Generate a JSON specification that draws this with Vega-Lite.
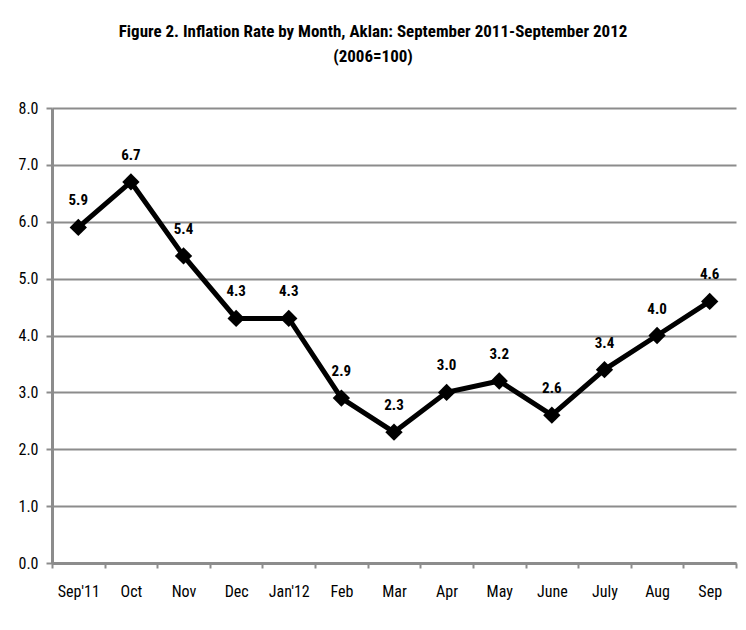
{
  "$schema": "https://vega.github.io/schema/vega-lite/v6.json",
  "autosize": "none",
  "width": 684,
  "height": 455,
  "padding": {"left": 52, "top": 108, "right": 10, "bottom": 67},
  "background": "white",
  "title": {
    "text": ["Figure 2. Inflation Rate by Month, Aklan: September 2011-September 2012", "(2006=100)"],
    "font": "Roboto Condensed, DejaVu Sans Condensed, sans-serif",
    "fontSize": 17,
    "fontWeight": "bold",
    "color": "black",
    "anchor": "middle",
    "dx": -21,
    "offset": 34,
    "lineHeight": 25
  },
  "config": {
    "view": {"stroke": null},
    "font": "Roboto Condensed, DejaVu Sans Condensed, sans-serif"
  },
  "data": {
    "values": [
      {"month": "Sep'11", "rate": 5.9},
      {"month": "Oct", "rate": 6.7},
      {"month": "Nov", "rate": 5.4},
      {"month": "Dec", "rate": 4.3},
      {"month": "Jan'12", "rate": 4.3},
      {"month": "Feb", "rate": 2.9},
      {"month": "Mar", "rate": 2.3},
      {"month": "Apr", "rate": 3.0},
      {"month": "May", "rate": 3.2},
      {"month": "June", "rate": 2.6},
      {"month": "July", "rate": 3.4},
      {"month": "Aug", "rate": 4.0},
      {"month": "Sep", "rate": 4.6}
    ]
  },
  "encoding": {
    "x": {
      "field": "month", "type": "nominal", "sort": null,
      "scale": {"type": "band", "paddingInner": 0, "paddingOuter": 0},
      "axis": {
        "title": null, "labelAngle": 0, "labelFont": "Roboto Condensed, DejaVu Sans Condensed, sans-serif",
        "labelFontSize": 16, "labelColor": "black", "labelPadding": 15,
        "domainColor": "#8c8c8c", "domainWidth": 3, "tickColor": "#8c8c8c",
        "tickWidth": 2, "tickSize": 5, "tickBand": "extent", "grid": false
      }
    },
    "y": {
      "field": "rate", "type": "quantitative",
      "scale": {"domain": [0, 8], "nice": false},
      "axis": {
        "title": null, "values": [0, 1, 2, 3, 4, 5, 6, 7, 8], "format": ".1f",
        "labelFont": "Roboto Condensed, DejaVu Sans Condensed, sans-serif", "labelFontSize": 16, "labelColor": "black",
        "labelPadding": 8, "domainColor": "#8c8c8c", "domainWidth": 3,
        "tickColor": "#8c8c8c", "tickWidth": 2, "tickSize": 6,
        "grid": true, "gridColor": "#8c8c8c", "gridWidth": 2
      }
    }
  },
  "layer": [
    {"mark": {"type": "line", "color": "black", "strokeWidth": 5}},
    {"mark": {"type": "point", "shape": "diamond", "filled": true, "color": "black", "size": 300, "opacity": 1}},
    {
      "mark": {"type": "text", "dy": -27, "fontSize": 15, "fontWeight": "bold", "color": "black", "font": "Roboto Condensed, DejaVu Sans Condensed, sans-serif"},
      "encoding": {"text": {"field": "rate", "type": "quantitative", "format": ".1f"}}
    }
  ]
}
